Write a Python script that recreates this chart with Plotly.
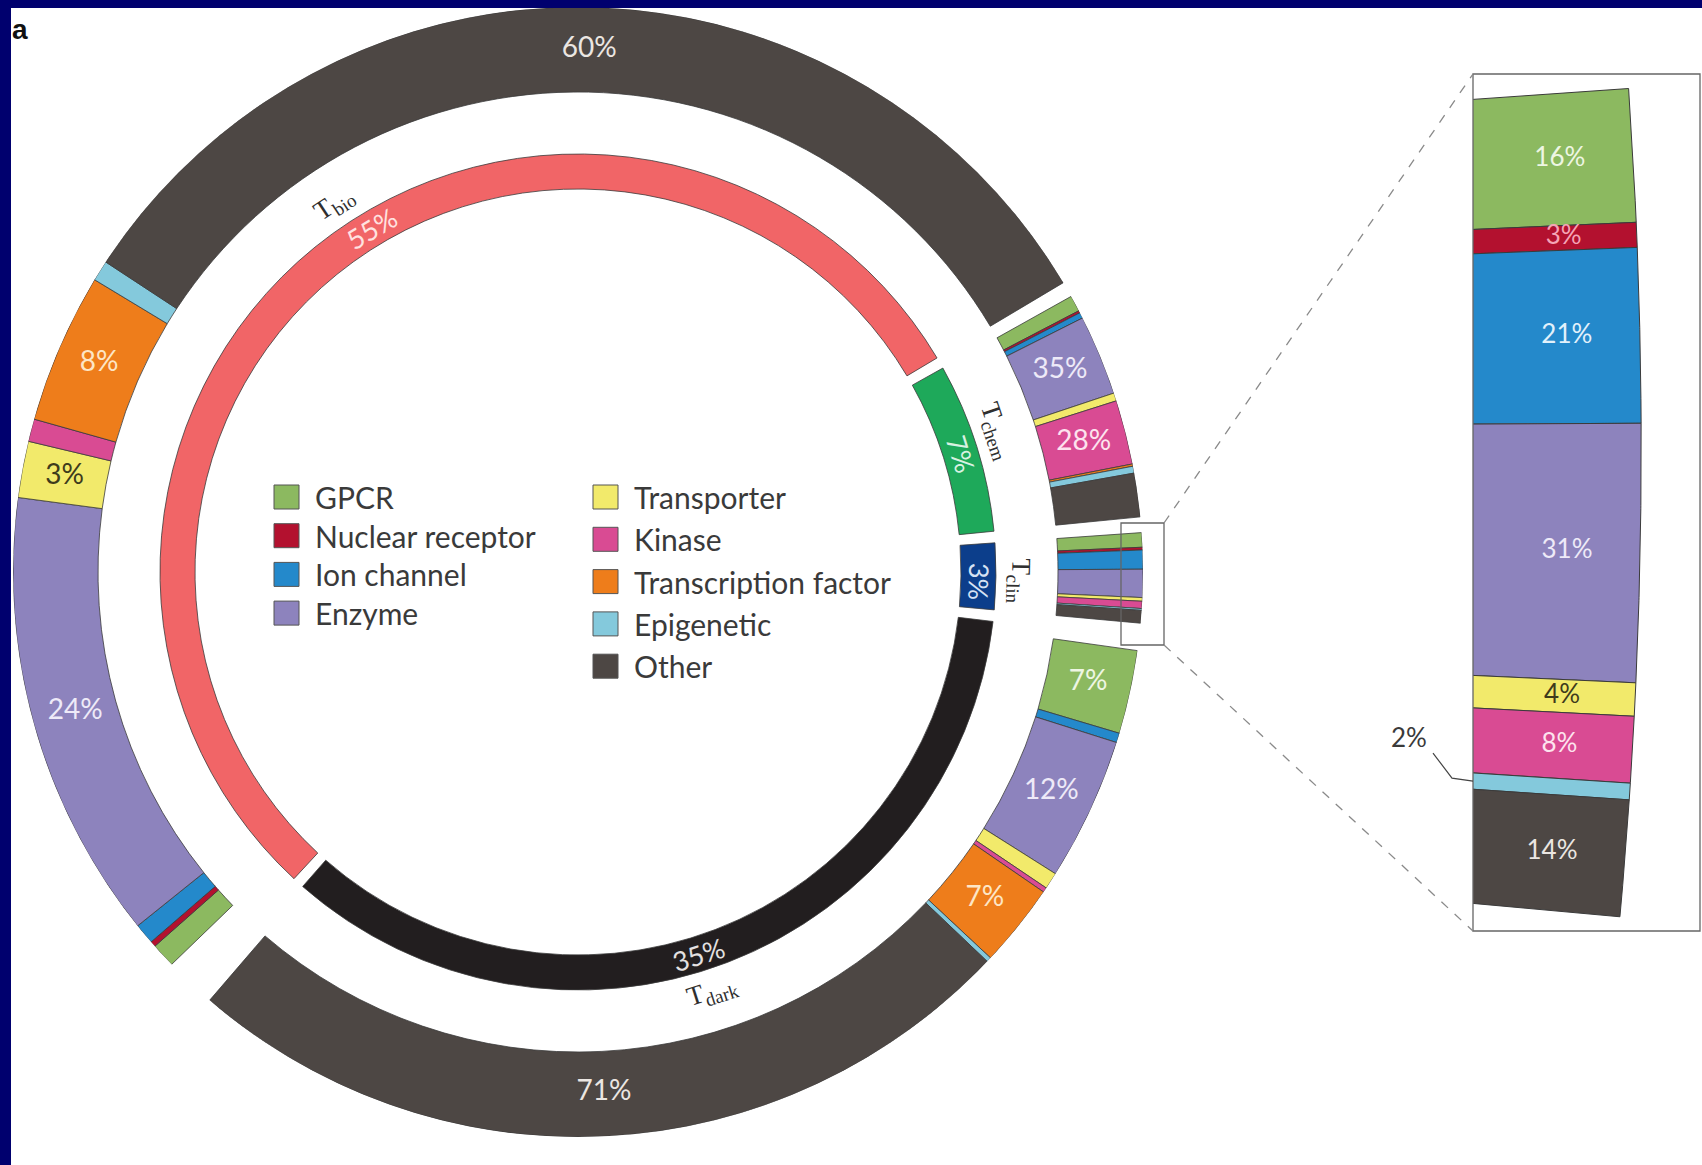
import numpy as np
import plotly.graph_objects as go

W, H = 1702, 1165

# ---------------- data ----------------
T_CLASSES = ["bio", "chem", "clin", "dark"]
T_SHARES = [55, 7, 3, 35]
T_COLORS = ["#f16567", "#1ea95a", "#0c3e8b", "#221e1f"]
T_TEXT_COLORS = ["#ffe2e0", "#d8f2e2", "#d6e2f4", "#e4e1e1"]

CATEGORIES = ["GPCR", "Nuclear receptor", "Ion channel", "Enzyme", "Transporter",
              "Kinase", "Transcription factor", "Epigenetic", "Other"]
CAT_COLORS = ["#8cb960", "#b3112f", "#2489cb", "#8d83bd", "#f2ea6b",
              "#d94b93", "#ee7d1b", "#84c9dc", "#4d4744"]
CAT_TEXT_COLORS = ["#eef6e3", "#f5a4b6", "#e2f1fb", "#eeeaf8", "#3e3b1c",
                   "#fde3ee", "#fde6c6", "#33454b", "#ebe6e2"]

# target-family mix (%) inside each development level, legend order
MIX_BIO = [1.3, 0.3, 1.1, 24, 3, 1.2, 8, 1.1, 60]
MIX_CHEM = [7, 1, 2.5, 35, 3.5, 28, 1, 3, 19]
MIX_CLIN = [16, 3, 21, 31, 4, 8, 0, 2, 14]
MIX_DARK = [7, 0, 0.8, 12, 1.4, 0.4, 7, 0.4, 71]
MIXES = [MIX_BIO, MIX_CHEM, MIX_CLIN, MIX_DARK]

# shares printed on the outer ring
OUTER_LABELLED = [
    ["Enzyme", "Transporter", "Transcription factor", "Other"],
    ["Enzyme", "Kinase"],
    [],
    ["GPCR", "Enzyme", "Transcription factor", "Other"],
]
ZOOM_CLASS = "clin"
ZOOM_OUTSIDE_LABEL = "Epigenetic"

# ---------------- geometry (page pixels / ring units) ----------------
CX, CY = 578, 572
R_MAX = 565
INNER_R = (383, 418)
OUTER_R = (480, 565)
START_DEG = 228            # leading edge of Tbio; levels run clockwise
INNER_PAD = 0.8
OUTER_PADS = [(4.0, 0.8), (0.8, 0.8), (0.8, 0.8), (2.0, 1.3)]
OUTER_LABEL_R = 522
INNER_LABEL_R = 401
TAG_R = 441
INNER_LABEL_THETA = [121.0, 17.2, -1.4, -72.5]
TAG_THETA = [123.5, 18.6, -1.2, -72.3]

ZOOM_BOX = (1473, 74, 1700, 931)   # left, top, right, bottom (px)
ZOOM_K = 9.14                      # px per ring unit inside the panel
ZOOM_ORIGIN = (546.6, 41.0)        # ring coords at panel top-left
ZOOM_LABEL_R = 557
SOURCE_BOX = (543, 586, -73, 49)   # x0, x1, y0, y1 in ring units

FONT = "Lato"
SERIF = "Liberation Serif"
EDGE = "#3b3b3b"


def ring_to_px(r, deg):
    t = np.radians(deg)
    return CX + r * np.cos(t), CY - r * np.sin(t)


def paper(px, py):
    return px / W, 1 - py / H


# slots of the four development levels (clockwise => decreasing angle)
slots = []
a = START_DEG
for s in T_SHARES:
    slots.append((a, a - s * 3.6))
    a -= s * 3.6

# outer segments: (level, category, lead angle, trail angle, value)
segments = []
for i, mix in enumerate(MIXES):
    lead = slots[i][0] - OUTER_PADS[i][0]
    trail = slots[i][1] + OUTER_PADS[i][1]
    span = lead - trail
    tot = float(sum(mix))
    cur = lead
    for j, v in enumerate(mix):
        if v <= 0:
            continue
        d = span * v / tot
        segments.append((i, j, cur, cur - d, v))
        cur -= d

fig = go.Figure()

# inner ring
for i, name in enumerate(T_CLASSES):
    lead, trail = slots[i]
    fig.add_trace(go.Barpolar(
        theta=[(lead + trail) / 2], width=[lead - trail - 2 * INNER_PAD],
        r=[INNER_R[1] - INNER_R[0]], base=[INNER_R[0]],
        marker=dict(color=T_COLORS[i], line=dict(color=EDGE, width=0.8)),
        name="T" + name, hoverinfo="skip"))

# outer ring, one trace per target family
for j, cat in enumerate(CATEGORIES):
    segs = [s for s in segments if s[1] == j]
    if not segs:
        continue
    fig.add_trace(go.Barpolar(
        theta=[(s[2] + s[3]) / 2 for s in segs],
        width=[s[2] - s[3] for s in segs],
        r=[OUTER_R[1] - OUTER_R[0]] * len(segs),
        base=[OUTER_R[0]] * len(segs),
        marker=dict(color=CAT_COLORS[j], line=dict(color=EDGE, width=0.8)),
        name=cat, hoverinfo="skip"))

# outer ring percentage labels
lab = [s for s in segments if CATEGORIES[s[1]] in OUTER_LABELLED[s[0]]]
fig.add_trace(go.Scatterpolar(
    r=[OUTER_LABEL_R] * len(lab),
    theta=[(s[2] + s[3]) / 2 for s in lab],
    text=[f"{s[4]:g}%" for s in lab],
    mode="text",
    textfont=dict(family=FONT, size=28, color=[CAT_TEXT_COLORS[s[1]] for s in lab]),
    hoverinfo="skip"))

# magnified panel of the Tclin family mix
zi = T_CLASSES.index(ZOOM_CLASS)
zsegs = [s for s in segments if s[0] == zi]
for s in zsegs:
    th = np.radians(np.linspace(s[2], s[3], 80))
    xs = np.concatenate([OUTER_R[1] * np.cos(th), OUTER_R[0] * np.cos(th[::-1])])
    ys = np.concatenate([OUTER_R[1] * np.sin(th), OUTER_R[0] * np.sin(th[::-1])])
    fig.add_trace(go.Scatter(
        x=np.append(xs, xs[0]), y=np.append(ys, ys[0]), mode="lines",
        fill="toself", fillcolor=CAT_COLORS[s[1]],
        line=dict(color=EDGE, width=1), xaxis="x2", yaxis="y2", hoverinfo="skip"))

zl = [s for s in zsegs if CATEGORIES[s[1]] != ZOOM_OUTSIDE_LABEL]
zmid = np.radians([(s[2] + s[3]) / 2 for s in zl])
fig.add_trace(go.Scatter(
    x=ZOOM_LABEL_R * np.cos(zmid), y=ZOOM_LABEL_R * np.sin(zmid),
    text=[f"{s[4]:g}%" for s in zl], mode="text",
    textfont=dict(family=FONT, size=26, color=[CAT_TEXT_COLORS[s[1]] for s in zl]),
    xaxis="x2", yaxis="y2", hoverinfo="skip"))

annotations = []
shapes = []

# inner ring labels and level tags
for i, name in enumerate(T_CLASSES):
    th = INNER_LABEL_THETA[i]
    ang = 90 - th if th > -30 else -(th + 90)
    px, py = ring_to_px(INNER_LABEL_R, th)
    x, y = paper(px, py)
    annotations.append(dict(x=x, y=y, xref="paper", yref="paper", showarrow=False,
                            text=f"{T_SHARES[i]}%", textangle=ang,
                            font=dict(family=FONT, size=27, color=T_TEXT_COLORS[i]),
                            xanchor="center", yanchor="middle"))
    th = TAG_THETA[i]
    ang = 90 - th if th > -30 else -(th + 90)
    px, py = ring_to_px(TAG_R, th)
    x, y = paper(px, py)
    annotations.append(dict(x=x, y=y, xref="paper", yref="paper", showarrow=False,
                            text=f"T<sub>{name}</sub>", textangle=ang,
                            font=dict(family=SERIF, size=27, color="#2f2f2f"),
                            xanchor="center", yanchor="middle"))

# legend drawn inside the ring
LEG_COLS = [(274, 497, 38.7, CATEGORIES[:4], CAT_COLORS[:4]),
            (593, 497, 42.3, CATEGORIES[4:], CAT_COLORS[4:])]
for x0, y0, step, names, cols in LEG_COLS:
    for k, (nm, c) in enumerate(zip(names, cols)):
        yc = y0 + k * step
        ax0, ay0 = paper(x0, yc - 12)
        ax1, ay1 = paper(x0 + 25, yc + 12)
        shapes.append(dict(type="rect", xref="paper", yref="paper",
                           x0=ax0, x1=ax1, y0=ay1, y1=ay0, fillcolor=c,
                           line=dict(color="#555555", width=1)))
        tx, ty = paper(x0 + 39, yc)
        annotations.append(dict(x=tx, y=ty, xref="paper", yref="paper", showarrow=False,
                                text=nm, xanchor="left", yanchor="middle",
                                font=dict(family=FONT, size=30, color="#3a3a3a")))

# panel frame, source frame and connecting dashed lines
zx0, zy0, zx1, zy1 = ZOOM_BOX
p0 = paper(zx0, zy0)
p1 = paper(zx1, zy1)
shapes.append(dict(type="rect", xref="paper", yref="paper", x0=p0[0], x1=p1[0],
                   y0=p1[1], y1=p0[1], line=dict(color="#666666", width=1.3)))
sx0, sy0 = CX + SOURCE_BOX[0], CY - SOURCE_BOX[3]
sx1, sy1 = CX + SOURCE_BOX[1], CY - SOURCE_BOX[2]
q0 = paper(sx0, sy0)
q1 = paper(sx1, sy1)
shapes.append(dict(type="rect", xref="paper", yref="paper", x0=q0[0], x1=q1[0],
                   y0=q1[1], y1=q0[1], line=dict(color="#666666", width=1.3)))
for (ax_, ay_), (bx_, by_) in [((sx1, sy0), (zx0, zy0)), ((sx1, sy1), (zx0, zy1))]:
    u = paper(ax_, ay_)
    v = paper(bx_, by_)
    shapes.append(dict(type="line", xref="paper", yref="paper", x0=u[0], y0=u[1],
                       x1=v[0], y1=v[1], line=dict(color="#8a8a8a", width=1.3, dash="dash")))

# outside label with leader for the thin panel slice
for s in zsegs:
    if CATEGORIES[s[1]] != ZOOM_OUTSIDE_LABEL:
        continue
    mid = np.radians((s[2] + s[3]) / 2)
    yv = ZOOM_ORIGIN[0] * np.tan(mid)
    ex, ey = zx0, zy0 + (ZOOM_ORIGIN[1] - yv) * ZOOM_K
    pts = [paper(ex - 40, ey - 28), paper(ex - 21, ey - 3), paper(ex, ey)]
    path = "M {} {} L {} {} L {} {}".format(*[c for p in pts for c in p])
    shapes.append(dict(type="path", xref="paper", yref="paper", path=path,
                       line=dict(color="#444444", width=1.2)))
    lx, ly = paper(ex - 64, ey - 44)
    annotations.append(dict(x=lx, y=ly, xref="paper", yref="paper", showarrow=False,
                            text=f"{s[4]:g}%", xanchor="center", yanchor="middle",
                            font=dict(family=FONT, size=26, color="#3a3a3a")))

# panel letter and page frame
annotations.append(dict(x=20 / W, y=1 - 29 / H, xref="paper", yref="paper", showarrow=False,
                        text="<b>a</b>", xanchor="center", yanchor="middle",
                        font=dict(family="Liberation Sans", size=28, color="#111111")))
shapes.append(dict(type="rect", xref="paper", yref="paper", x0=0, x1=1,
                   y0=1 - 8 / H, y1=1, fillcolor="#00006e", line=dict(width=0)))
shapes.append(dict(type="rect", xref="paper", yref="paper", x0=0, x1=11 / W,
                   y0=0, y1=1, fillcolor="#00006e", line=dict(width=0)))

fig.update_layout(
    width=W, height=H, margin=dict(l=0, r=0, t=0, b=0),
    paper_bgcolor="white", plot_bgcolor="rgba(0,0,0,0)", showlegend=False,
    polar=dict(
        domain=dict(x=[(CX - R_MAX) / W, (CX + R_MAX) / W],
                    y=[1 - (CY + R_MAX) / H, 1 - (CY - R_MAX) / H]),
        bgcolor="rgba(0,0,0,0)", barmode="overlay", hole=0,
        radialaxis=dict(range=[0, R_MAX], visible=False),
        angularaxis=dict(visible=False, direction="counterclockwise", rotation=0)),
    xaxis2=dict(domain=[zx0 / W, zx1 / W], anchor="y2", visible=False, fixedrange=True,
                range=[ZOOM_ORIGIN[0], ZOOM_ORIGIN[0] + (zx1 - zx0) / ZOOM_K]),
    yaxis2=dict(domain=[1 - zy1 / H, 1 - zy0 / H], anchor="x2", visible=False, fixedrange=True,
                range=[ZOOM_ORIGIN[1] - (zy1 - zy0) / ZOOM_K, ZOOM_ORIGIN[1]]),
    annotations=annotations, shapes=shapes,
)

fig.write_html("out.html")
